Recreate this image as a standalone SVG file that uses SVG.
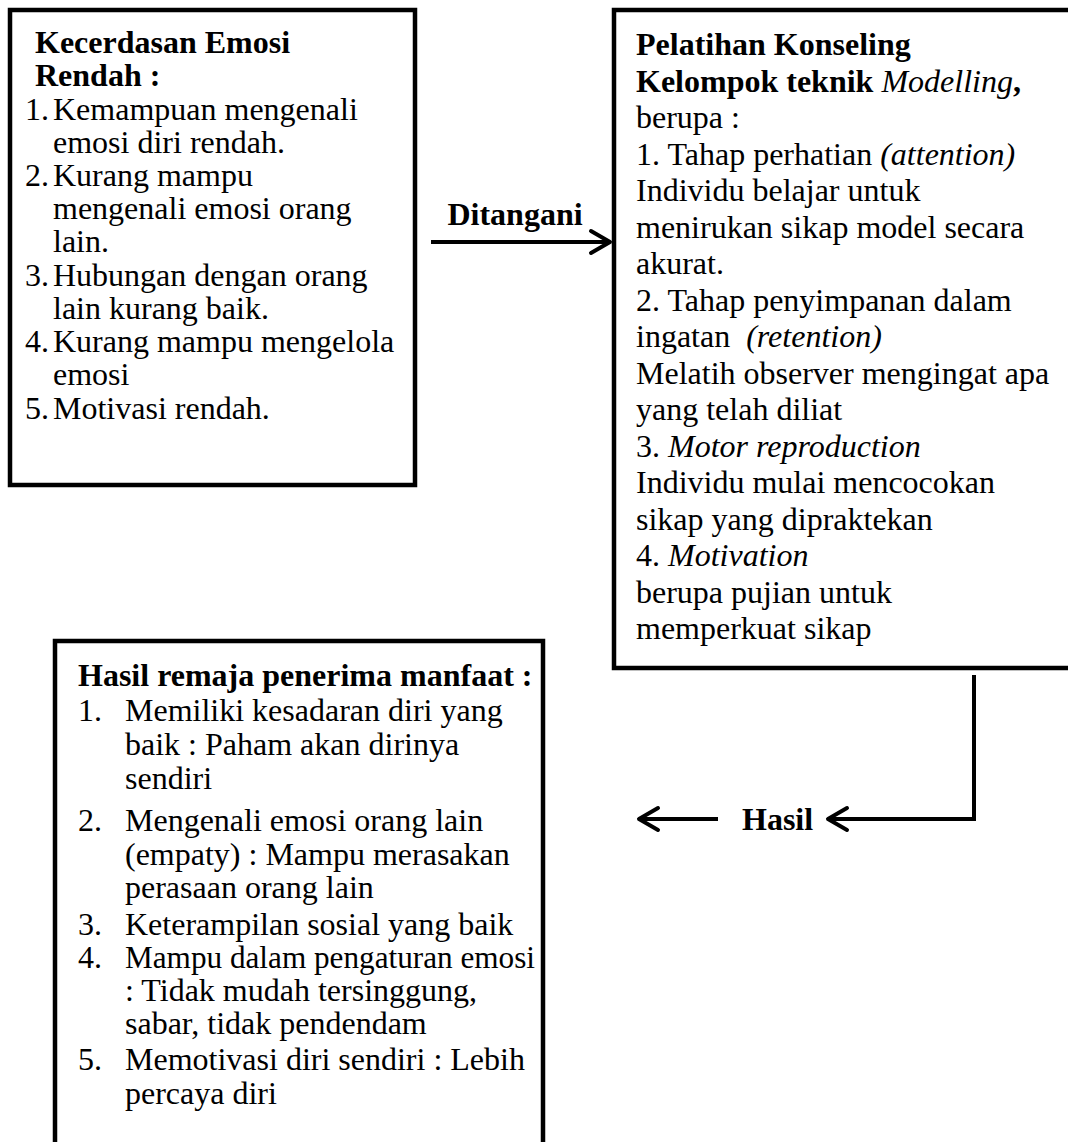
<svg xmlns="http://www.w3.org/2000/svg" width="1068" height="1142" viewBox="0 0 1068 1142">
<style>
text{font-family:"Liberation Serif","Times New Roman",serif;font-size:32px;fill:#000}
.b{font-weight:bold}
.i{font-style:italic}
.box{fill:#fff;stroke:#000;stroke-width:4.5}
.ln{fill:none;stroke:#000;stroke-width:4}
.hd{fill:none;stroke:#000;stroke-width:4;stroke-linecap:round;stroke-linejoin:round}
</style>
<rect width="1068" height="1142" fill="#fff"/>
<g id="node-kecerdasan">
<rect class="box" x="10" y="10" width="405" height="475"/>
<text class="b" x="35" y="53">Kecerdasan Emosi</text>
<text class="b" x="35" y="86">Rendah :</text>
<text x="25" y="119.5">1.</text><text x="53" y="119.5">Kemampuan mengenali</text>
<text x="53" y="152.5">emosi diri rendah.</text>
<text x="25" y="186">2.</text><text x="53" y="186">Kurang mampu</text>
<text x="53" y="219">mengenali emosi orang</text>
<text x="53" y="252">lain.</text>
<text x="25" y="285.5">3.</text><text x="53" y="285.5">Hubungan dengan orang</text>
<text x="53" y="318.5">lain kurang baik.</text>
<text x="25" y="352">4.</text><text x="53" y="352">Kurang mampu mengelola</text>
<text x="53" y="385">emosi</text>
<text x="25" y="418.5">5.</text><text x="53" y="418.5">Motivasi rendah.</text>
</g>
<g id="node-pelatihan">
<rect class="box" x="614" y="10" width="470" height="658"/>
<text class="b" x="636" y="55">Pelatihan Konseling</text>
<text class="b" x="636" y="91.5">Kelompok teknik <tspan class="i" font-weight="normal">Modelling</tspan>,</text>
<text x="636" y="128">berupa :</text>
<text x="636" y="164.5">1. Tahap perhatian <tspan class="i">(attention)</tspan></text>
<text x="636" y="201">Individu belajar untuk</text>
<text x="636" y="237.5">menirukan sikap model secara</text>
<text x="636" y="274">akurat.</text>
<text x="636" y="310.5">2. Tahap penyimpanan dalam</text>
<text x="636" y="347">ingatan <tspan class="i" dx="8">(retention)</tspan></text>
<text x="636" y="383.5">Melatih observer mengingat apa</text>
<text x="636" y="420">yang telah diliat</text>
<text x="636" y="456.5">3. <tspan class="i">Motor reproduction</tspan></text>
<text x="636" y="493">Individu mulai mencocokan</text>
<text x="636" y="529.5">sikap yang dipraktekan</text>
<text x="636" y="566">4. <tspan class="i">Motivation</tspan></text>
<text x="636" y="602.5">berupa pujian untuk</text>
<text x="636" y="639">memperkuat sikap</text>
</g>
<g id="node-hasil-remaja">
<rect class="box" x="55" y="641" width="488" height="520"/>
<text class="b" x="78" y="686">Hasil remaja penerima manfaat :</text>
<text x="78" y="721">1.</text><text x="125" y="721">Memiliki kesadaran diri yang</text>
<text x="125" y="755">baik : Paham akan dirinya</text>
<text x="125" y="789">sendiri</text>
<text x="78" y="831">2.</text><text x="125" y="831">Mengenali emosi orang lain</text>
<text x="125" y="865">(empaty) : Mampu merasakan</text>
<text x="125" y="898">perasaan orang lain</text>
<text x="78" y="935">3.</text><text x="125" y="935">Keterampilan sosial yang baik</text>
<text x="78" y="968">4.</text><text x="125" y="968" textLength="410" lengthAdjust="spacingAndGlyphs">Mampu dalam pengaturan emosi</text>
<text x="125" y="1001">: Tidak mudah tersinggung,</text>
<text x="125" y="1034">sabar, tidak pendendam</text>
<text x="78" y="1070">5.</text><text x="125" y="1070">Memotivasi diri sendiri : Lebih</text>
<text x="125" y="1104">percaya diri</text>
</g>
<g id="connectors">
<g id="edge-ditangani">
<line class="ln" x1="431" y1="242" x2="609" y2="242"/>
<polyline class="hd" points="591,231 610,242 591,253"/>
<text class="b" x="515" y="225" text-anchor="middle">Ditangani</text>
</g>
<g id="edge-hasil">
<polyline class="ln" points="974,675 974,819 828,819"/>
<polyline class="hd" points="847,808 828,819 847,830"/>
<text class="b" x="742" y="830">Hasil</text>
<line class="ln" x1="718" y1="819" x2="639" y2="819"/>
<polyline class="hd" points="658,808 639,819 658,830"/>
</g>
</g>
</svg>
